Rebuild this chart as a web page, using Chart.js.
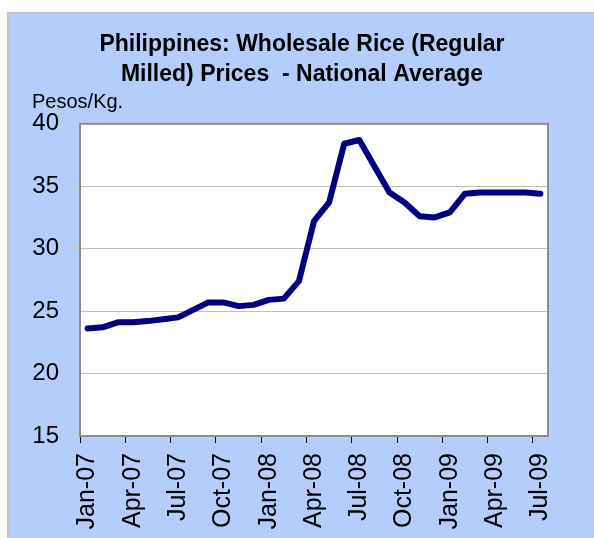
<!DOCTYPE html>
<html>
<head>
<meta charset="utf-8">
<script src="https://cdn.jsdelivr.net/npm/chart.js@4.4.0/dist/chart.umd.min.js"></script>
<style>
  body { margin: 0; background: #fff; }
  canvas { display: block; }
</style>
</head>
<body>
<canvas id="riceChart" width="594" height="538"></canvas>
<script>
// monthly wholesale price, Jan-07 .. Jul-09
const months = [
    'Jan-07', 'Feb-07', 'Mar-07', 'Apr-07', 'May-07', 'Jun-07', 'Jul-07', 'Aug-07', 'Sep-07', 'Oct-07', 'Nov-07', 'Dec-07',
    'Jan-08', 'Feb-08', 'Mar-08', 'Apr-08', 'May-08', 'Jun-08', 'Jul-08', 'Aug-08', 'Sep-08', 'Oct-08', 'Nov-08', 'Dec-08',
    'Jan-09', 'Feb-09', 'Mar-09', 'Apr-09', 'May-09', 'Jun-09', 'Jul-09'
];
const prices = [
    23.6, 23.7, 24.1, 24.1, 24.2, 24.35, 24.5, 25.1, 25.7, 25.7, 25.4, 25.5,
    25.9, 26.0, 27.4, 32.2, 33.7, 38.4, 38.7, 36.6, 34.5, 33.7, 32.6, 32.5,
    32.9, 34.4, 34.5, 34.5, 34.5, 34.5, 34.4
];
const titleLines = ['Philippines: Wholesale Rice (Regular', 'Milled) Prices  - National Average'];
const unitLabel = 'Pesos/Kg.';

Chart.defaults.font.family = "'Liberation Sans', Arial, sans-serif";
Chart.defaults.color = '#000';

// light blue panel and white plot area behind everything
const panelPlugin = {
    id: 'panel',
    beforeDraw(chart) {
        const ctx = chart.ctx;
        const a = chart.chartArea;
        ctx.save();
        ctx.fillStyle = '#fff';
        ctx.fillRect(0, 0, chart.width, chart.height);
        ctx.fillStyle = '#b4cdfb';
        ctx.fillRect(7, 12, chart.width - 7, chart.height - 12);
        ctx.strokeStyle = '#c4c4c4';
        ctx.lineWidth = 2;
        ctx.beginPath();
        ctx.moveTo(8, chart.height);
        ctx.lineTo(8, 13);
        ctx.lineTo(chart.width, 13);
        ctx.stroke();
        ctx.fillStyle = '#fff';
        ctx.fillRect(a.left, a.top, a.right - a.left, a.bottom - a.top);
        ctx.restore();
    },
    beforeDatasetsDraw(chart) {
        const ctx = chart.ctx;
        const a = chart.chartArea;
        ctx.save();
        ctx.strokeStyle = '#8c8c8c';
        ctx.lineWidth = 2;
        ctx.strokeRect(a.left, a.top, a.right - a.left, a.bottom - a.top);
        ctx.restore();
    },
    afterDraw(chart) {
        const ctx = chart.ctx;
        ctx.save();
        ctx.font = "20px 'Liberation Sans', Arial, sans-serif";
        ctx.fillStyle = '#000';
        ctx.textBaseline = 'alphabetic';
        ctx.fillText(unitLabel, 32, 108);
        ctx.restore();
    }
};

new Chart(document.getElementById('riceChart'), {
    type: 'line',
    data: {
        labels: months,
        datasets: [{
            data: prices,
            borderColor: '#000080',
            borderWidth: 6,
            pointRadius: 0,
            tension: 0,
            fill: false,
            borderCapStyle: 'round',
            borderJoinStyle: 'round'
        }]
    },
    options: {
        responsive: false,
        devicePixelRatio: 1,
        animation: false,
        layout: { padding: { left: 10, right: 0, top: 0, bottom: 0 } },
        plugins: {
            legend: { display: false },
            tooltip: { enabled: false },
            title: {
                display: true,
                text: titleLines,
                font: { size: 23, weight: 'bold', lineHeight: 1.3 },
                color: '#000',
                padding: { top: 30, bottom: 34 }
            }
        },
        scales: {
            x: {
                type: 'category',
                offset: true,
                border: { display: false },
                grid: {
                    offset: true,
                    drawOnChartArea: false,
                    drawTicks: true,
                    tickLength: 7,
                    tickColor: ctx => (ctx.index % 3 === 0 ? '#000' : 'rgba(0,0,0,0)')
                },
                ticks: {
                    autoSkip: false,
                    minRotation: 90,
                    maxRotation: 90,
                    padding: 10,
                    font: { size: 25 },
                    callback: (v, i) => (i % 3 === 0 ? months[i] : '')
                },
                afterFit: scale => { scale.height = 102; }
            },
            y: {
                min: 15,
                max: 40,
                border: { display: false },
                grid: {
                    color: '#c0c0c0',
                    tickColor: '#d8cdb8',
                    tickLength: 8
                },
                ticks: {
                    stepSize: 5,
                    padding: 13,
                    font: { size: 24 }
                },
                afterFit: scale => { scale.width = 70; }
            },
            // empty right-hand strip of the blue panel
            yRight: {
                position: 'right',
                min: 15,
                max: 40,
                border: { display: false },
                grid: { drawOnChartArea: false, drawTicks: false },
                ticks: { display: false },
                afterFit: scale => { scale.width = 46; }
            }
        }
    },
    plugins: [panelPlugin]
});
</script>
</body>
</html>
